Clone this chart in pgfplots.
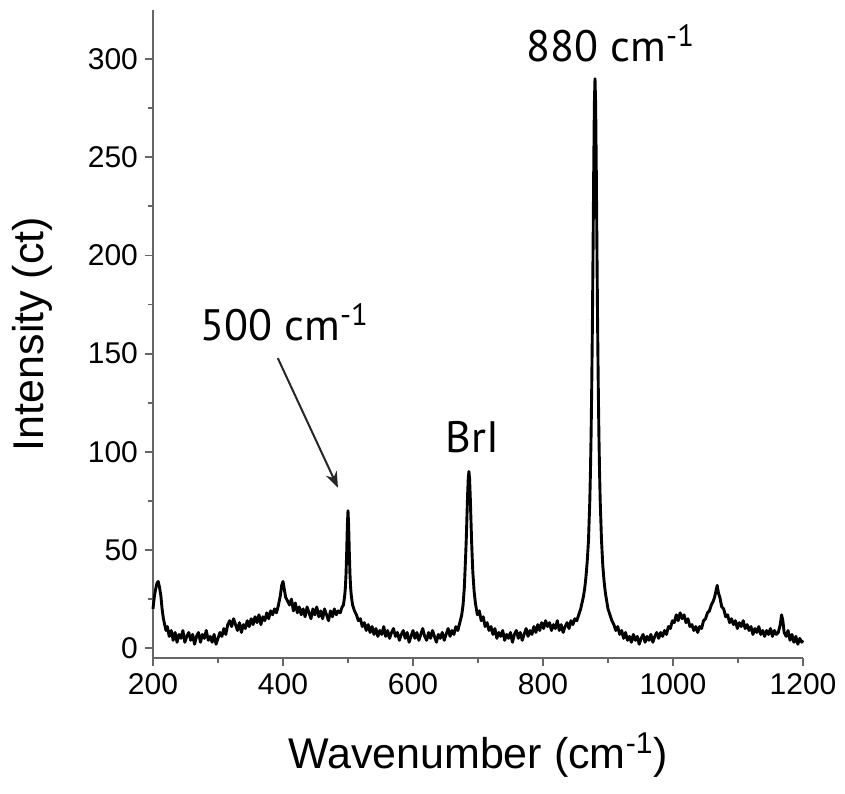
\documentclass[border=0pt]{standalone}
\usepackage{fontspec}
\setmainfont{Liberation Sans}
\newfontfamily\annfont{PT Sans}
\usepackage{pgfplots}
\pgfplotsset{compat=1.18}
\usetikzlibrary{arrows.meta}

\begin{document}
\begin{tikzpicture}
\begin{axis}[
    scale only axis,
    width=325pt, height=324pt,
    xmin=200, xmax=1200, ymin=-5, ymax=325,
    axis x line*=bottom, axis y line*=left,
    axis line style={black!60, line width=1pt},
    tick align=outside,
    major tick length=4pt, minor tick length=2.5pt,
    every tick/.style={black!60, line width=0.9pt},
    xtick={200,400,600,800,1000,1200},
    ytick={0,50,100,150,200,250,300},
    minor x tick num=1, minor y tick num=1,
    /pgf/number format/1000 sep={},
    /pgf/number format/assume math mode=true,
    tick label style={font=\fontsize{15}{18}\selectfont},
    xlabel={Wavenumber (cm\textsuperscript{-1})},
    ylabel={Intensity (ct)},
    label style={font=\fontsize{21.5}{25}\selectfont},
    xlabel style={at={(axis description cs:0.5,-0.15)}, anchor=center},
    ylabel style={at={(axis description cs:-0.186,0.5)}, anchor=center},
    clip=false,
]
\addplot[black, line width=1.45pt, line join=round] coordinates {
(200,20) (202,26) (204,30) (206,33) (208,34) (210,31) (212,27) (214,20) (216,15) (218,12)
(220,9) (222,11) (225,6) (228,9) (231,4) (234,8) (237,3) (240,7) (243,5) (246,9)
(249,3) (252,6) (255,8) (258,4) (261,7) (264,2) (267,6) (270,8) (273,3) (276,7)
(279,5) (282,9) (285,4) (288,6) (291,3) (294,7) (297,2) (300,5) (303,8) (306,6)
(309,10) (312,7) (315,12) (318,14) (321,11) (324,15) (327,12) (330,9) (333,13) (336,8)
(339,12) (342,10) (345,14) (348,11) (351,15) (354,12) (357,16) (360,13) (363,17) (366,12)
(369,16) (372,14) (375,18) (378,15) (381,19) (384,17) (387,20) (390,18) (393,22) (396,27)
(398,32) (400,34) (402,30) (404,26) (407,24) (410,22) (413,25) (416,19) (419,23) (422,18)
(425,21) (428,17) (431,20) (434,16) (437,21) (440,18) (443,15) (446,20) (449,17) (452,21)
(455,16) (458,19) (461,15) (464,20) (467,17) (470,14) (473,19) (476,16) (479,20) (482,17)
(485,19) (488,18) (491,21) (493,22) (495,27) (496,31) (497,38) (498,49) (499,62.5) (500,70)
(501,62.5) (502,49) (503,38) (504,31) (505,27) (507,22) (510,19) (513,17) (516,14) (519,15)
(522,11) (525,13) (528,9) (531,12) (534,8) (537,11) (540,7) (543,10) (546,6) (549,9)
(552,7) (555,11) (558,6) (561,9) (564,5) (567,8) (570,10) (573,6) (576,8) (579,4)
(582,7) (585,9) (588,5) (591,8) (594,3) (597,6) (600,9) (603,5) (606,8) (609,4)
(612,7) (615,10) (618,6) (621,4) (624,8) (627,5) (630,9) (633,6) (636,3) (639,7)
(642,5) (645,8) (648,4) (651,7) (654,10) (657,6) (660,9) (663,7) (666,11) (669,9)
(672,13) (675,17) (677,22) (679,31) (681,47) (682,56) (683,67) (684,78) (685,86.5) (686,90)
(687,86.5) (688,78) (689,67) (690,56) (691,47) (692,39) (694,29) (696,23) (699,17) (702,19)
(705,14) (708,16) (711,11) (714,13) (717,9) (720,11) (723,7) (726,10) (729,5) (732,8)
(735,6) (738,9) (741,4) (744,7) (747,5) (750,8) (753,3) (756,7) (759,9) (762,5)
(765,8) (768,4) (771,7) (774,10) (777,6) (780,9) (783,7) (786,11) (789,8) (792,12)
(795,9) (798,13) (801,10) (804,14) (807,11) (810,13) (813,9) (816,12) (819,10) (822,14)
(825,9) (828,12) (831,8) (834,11) (837,13) (840,10) (843,14) (846,12) (849,15) (852,14)
(855,17) (858,20) (860,23) (862,26) (864,30) (866,36) (868,44) (870,55) (872,75) (873,90)
(874,109) (875,134) (876,165) (877,203) (878,243) (879,277) (880,290) (881,277) (882,243) (883,203)
(884,165) (885,134) (886,109) (887,90) (888,75) (890,55) (892,42) (894,34) (896,28) (898,24)
(900,20) (903,17) (906,14) (909,12) (912,9) (915,11) (918,7) (921,9) (924,5) (927,8)
(930,4) (933,6) (936,3) (939,7) (942,4) (945,6) (948,2) (951,5) (954,7) (957,3)
(960,6) (963,4) (966,7) (969,3) (972,6) (975,8) (978,5) (981,8) (984,6) (987,9)
(990,7) (993,11) (996,10) (999,14) (1002,13) (1005,17) (1008,14) (1011,18) (1014,15) (1017,17)
(1020,13) (1023,15) (1026,11) (1029,12) (1032,9) (1035,11) (1038,8) (1041,11) (1044,10) (1047,14)
(1050,15) (1053,18) (1056,19) (1059,22) (1062,24) (1064,26) (1066,29) (1068,32) (1070,28) (1072,26)
(1075,21) (1078,20) (1081,16) (1084,17) (1087,13) (1090,15) (1093,12) (1096,14) (1099,10) (1102,13)
(1105,11) (1108,14) (1111,10) (1114,12) (1117,9) (1120,11) (1123,7) (1126,10) (1129,8) (1132,11)
(1135,7) (1138,9) (1141,6) (1144,9) (1147,7) (1150,10) (1153,6) (1156,9) (1159,7) (1162,8)
(1165,12) (1167,17) (1169,14) (1171,8) (1174,6) (1177,9) (1180,4) (1183,7) (1186,3) (1189,6)
(1192,2) (1195,5) (1198,3) (1200,4)
};
\draw[-{Stealth[length=8pt,width=6pt]}, line width=1pt, black!85] (axis cs:392,147.7) -- (axis cs:484.6,81.7);
\node[font=\annfont\fontsize{22}{26}\selectfont, anchor=center] at (axis cs:403,166) {500 cm\textsuperscript{-1}};
\node[font=\annfont\fontsize{22}{26}\selectfont, anchor=center] at (axis cs:691,107.6) {BrI};
\node[font=\annfont\fontsize{22}{26}\selectfont, anchor=center] at (axis cs:904.6,308) {880 cm\textsuperscript{-1}};
\end{axis}
\path (current axis.south west) ++(-76.5pt,-68pt) coordinate (bbl);
\path (current axis.north east) ++(21pt,5pt) coordinate (btr);
\path (bbl) rectangle (btr);
\end{tikzpicture}
\end{document}
